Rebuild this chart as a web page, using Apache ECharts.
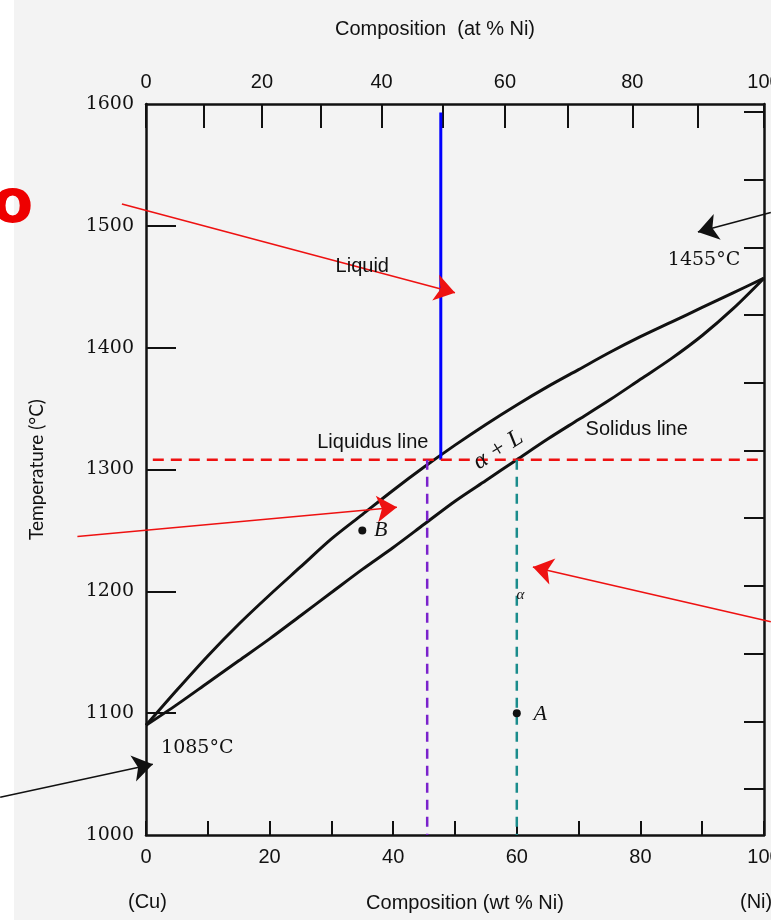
<!DOCTYPE html>
<html><head><meta charset="utf-8">
<script src="https://cdn.jsdelivr.net/npm/echarts@6/dist/echarts.min.js"></script>
<style>html,body{margin:0;padding:0;background:#f3f3f3}#c{width:771px;height:920px}</style>
</head><body><div id="c"></div><script>
// ---- data ----
const wtPct      = [0,5,10,15,20,25,30,35,40,45,50,55,60,65,70,75,80,85,90,95,100];
const liquidusT  = [1090,1119,1147,1173,1197,1220,1243,1263,1283,1302,1320,1337,1353,1368,1382,1396,1409,1421,1433,1445,1457];
const solidusT   = [1090,1107,1125,1143,1161,1180,1199,1218,1236,1255,1274,1291,1308,1325,1341,1357,1374,1391,1410,1432,1457];
const wtTicks    = [0,10,20,30,40,50,60,70,80,90,100];
const wtLabels   = [0,20,40,60,80,100];
const atTicks    = [0,10,20,30,40,50,60,70,80,90,100];
const atLabels   = [0,20,40,60,80,100];
const tempTicks  = [1100,1200,1300,1400,1500];
const fTicks     = [1900,2000,2100,2200,2300,2400,2500,2600,2700,2800,2900];
const pointA = [60,1100];
const pointB = [35,1250];
const tieT = 1308, tieStart = 1.1, tieL = 45.5, tieS = 60;
const blueX = 47.7, blueTop = 1593;
const redArrows = [
  [[-3.9,1518],[50.0,1445]],
  [[-11.1,1245],[40.6,1269]],
  [[101.1,1175],[62.6,1220]]
];
const blackArrows = [
  [[101.1,1511],[89.3,1495]],
  [[-23.6,1031],[1.1,1058]]
];
const texts = [
  {t:'Liquid',        p:[35.0,1467], f:'Liberation Sans', s:20},
  {t:'1455°C',        p:[90.3,1472], f:'DejaVu Serif', s:19},
  {t:'Liquidus line', p:[36.7,1322], f:'Liberation Sans', s:20},
  {t:'Solidus line',  p:[79.4,1333], f:'Liberation Sans', s:20},
  {t:'α + L',         p:[57.0,1316], f:'Liberation Serif', s:24, it:true, r:32},
  {t:'B',             p:[38.0,1250], f:'Liberation Serif', s:22, it:true},
  {t:'α',             p:[60.6,1197], f:'Liberation Serif', s:15, it:true},
  {t:'A',             p:[63.8,1099], f:'Liberation Serif', s:22, it:true},
  {t:'1085°C',        p:[8.3,1071],  f:'DejaVu Serif', s:19}
];
// ---- helpers ----
const MCu = 63.55, MNi = 58.69;
function atToWt(a){ return a*MNi/(a*MNi+(100-a)*MCu)*100; }
const fToC = f => (f-32)*5/9;

const chart = echarts.init(document.getElementById('c'));
const axisLine = {show:true, onZero:false, lineStyle:{color:'#111', width:2.5}};
const numFont = {color:'#111', fontFamily:'Liberation Sans', fontSize:20};

function arrowSeries(arr, color){
  return {type:'lines', coordinateSystem:'cartesian2d', clip:false, z:5,
    symbol:['none','arrow'], symbolSize:20,
    lineStyle:{color:color, width:1.6, opacity:1},
    data: arr.map(a=>({coords:a}))};
}

chart.setOption({
  animation:false,
  backgroundColor:'#f3f3f3',
  grid:{left:146, right:7, top:104, bottom:85, containLabel:false, outerBoundsMode:'none'},
  xAxis:[
    {type:'value', position:'bottom', min:0, max:100,
     axisLine:axisLine, splitLine:{show:false},
     axisTick:{show:true, inside:true, length:14, customValues:wtTicks, lineStyle:{color:'#111', width:2}},
     axisLabel:Object.assign({customValues:wtLabels, margin:12}, numFont),
     name:'Composition (wt % Ni)', nameLocation:'middle', nameGap:58,
     nameTextStyle:{color:'#111', fontFamily:'Liberation Sans', fontSize:20, padding:[0,0,0,20]}},
    {type:'value', position:'top', min:0, max:100,
     axisLine:axisLine, splitLine:{show:false},
     axisTick:{show:true, inside:true, length:24, customValues:atTicks.map(atToWt), lineStyle:{color:'#111', width:2}},
     axisLabel:Object.assign({customValues:atLabels.map(atToWt), margin:12,
        formatter:function(v){ for(const a of atLabels){ if(Math.abs(atToWt(a)-v)<0.01) return String(a);} return ''; }}, numFont),
     name:'Composition  (at % Ni)', nameLocation:'middle', nameGap:65,
     nameTextStyle:{color:'#111', fontFamily:'Liberation Sans', fontSize:20, padding:[0,40,0,0]}}
  ],
  yAxis:[
    {type:'value', position:'left', min:1000, max:1600, interval:100,
     axisLine:axisLine, splitLine:{show:false},
     axisTick:{show:true, inside:true, length:30, customValues:tempTicks, lineStyle:{color:'#111', width:2}},
     axisLabel:{margin:12, color:'#111', fontFamily:'DejaVu Serif', fontSize:19, formatter:v=>String(v)},
     name:'Temperature (°C)', nameLocation:'middle', nameGap:100, nameRotate:90,
     nameTextStyle:{color:'#111', fontFamily:'Lato', fontSize:19}},
    {type:'value', position:'right', min:1000, max:1600, offset:0,
     axisLine:axisLine, splitLine:{show:false},
     axisTick:{show:true, inside:true, length:20, customValues:fTicks.map(fToC), lineStyle:{color:'#111', width:2}},
     axisLabel:{show:false}}
  ],
  series:[
    {type:'line', name:'Liquidus', data:wtPct.map((x,i)=>[x,liquidusT[i]]), smooth:0.3,
     symbol:'none', lineStyle:{color:'#111', width:3}, z:3},
    {type:'line', name:'Solidus', data:wtPct.map((x,i)=>[x,solidusT[i]]), smooth:0.3,
     symbol:'none', lineStyle:{color:'#111', width:3}, z:3},
    {type:'line', name:'blue', data:[[blueX,blueTop],[blueX,tieT]], symbol:'none',
     lineStyle:{color:'#0000ff', width:3}, z:4},
    {type:'line', name:'tie', data:[[tieStart,tieT],[100,tieT]], symbol:'none',
     lineStyle:{color:'#ee1111', width:2.5, type:[11,7]}, z:4},
    {type:'line', name:'CL', data:[[tieL,tieT],[tieL,1000]], symbol:'none',
     lineStyle:{color:'#7a22cc', width:2.5, type:[10,7]}, z:4},
    {type:'line', name:'CS', data:[[tieS,tieT],[tieS,1000]], symbol:'none',
     lineStyle:{color:'#1a8c8c', width:2.5, type:[10,7]}, z:4},
    {type:'scatter', name:'points', data:[pointA,pointB], symbolSize:8,
     itemStyle:{color:'#111', opacity:1}, z:6},
    arrowSeries(redArrows, '#ee1111'),
    arrowSeries(blackArrows, '#111'),
    {type:'scatter', name:'texts', symbolSize:0, z:7, silent:true,
     itemStyle:{opacity:1},
     data:texts.map(o=>({value:o.p, label:{show:true, position:'inside', formatter:o.t, color:'#111', opacity:1,
        fontFamily:o.f, fontSize:o.s, fontStyle:o.it?'italic':'normal', rotate:o.r||0}}))}
  ],
  graphic:[
    {type:'rect', left:0, top:0, shape:{width:14, height:920}, style:{fill:'#ffffff'}, z:-1},
    {type:'text', left:-8, top:176, style:{text:'o', fill:'#ee0000', font:'bold 60px "DejaVu Sans"'}, z:10},
    {type:'text', left:128, top:892, style:{text:'(Cu)', fill:'#111', font:'20px "Liberation Sans"'}},
    {type:'text', left:740, top:892, style:{text:'(Ni)', fill:'#111', font:'20px "Liberation Sans"'}}
  ]
});
</script></body></html>
